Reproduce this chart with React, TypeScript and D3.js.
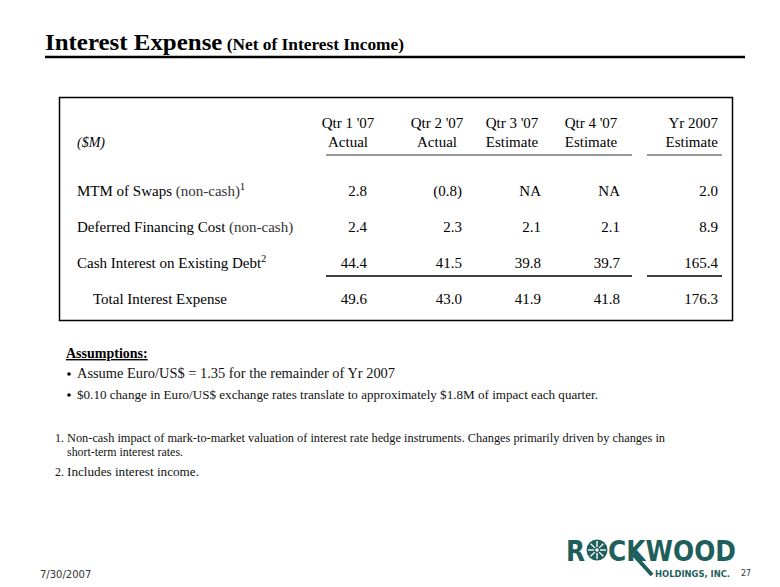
import React from "react";
import * as d3 from "d3";

// table data
const columnPeriods = ["Qtr 1 '07", "Qtr 2 '07", "Qtr 3 '07", "Qtr 4 '07", "Yr 2007"];
const columnBasis = ["Actual", "Actual", "Estimate", "Estimate", "Estimate"];
const rowLabels = [
  "MTM of Swaps",
  "Deferred Financing Cost",
  "Cash Interest on Existing Debt",
  "Total Interest Expense",
];
const rowNotes = [" (non-cash)", " (non-cash)", "", ""];
const rowFootnoteRefs = ["1", "", "2", ""];
const mtmOfSwaps = [2.8, -0.8, null, null, 2.0];
const deferredFinancingCost = [2.4, 2.3, 2.1, 2.1, 8.9];
const cashInterestOnDebt = [44.4, 41.5, 39.8, 39.7, 165.4];
const totalInterestExpense = [49.6, 43.0, 41.9, 41.8, 176.3];

const assumptions = [
  "Assume Euro/US$ = 1.35 for the remainder of Yr 2007",
  "$0.10 change in Euro/US$ exchange rates translate to approximately $1.8M of impact each quarter.",
];
const footnotes = [
  [
    "Non-cash impact of mark-to-market valuation of interest rate hedge instruments.  Changes primarily driven by changes in",
    "short-term interest rates.",
  ],
  ["Includes interest income."],
];

const serif = "'Liberation Serif', 'DejaVu Serif', serif";
const teal = "#1f5f5b";

const fmt = d3.format(".1f");
const formatValue = (v: number | null) =>
  v == null ? "NA" : v < 0 ? `(${fmt(-v)})` : fmt(v);

export default function App() {
  const width = 780;
  const height = 587;
  const rows = [mtmOfSwaps, deferredFinancingCost, cashInterestOnDebt, totalInterestExpense];

  // right edge of each numeric column
  const colRight = d3
    .scaleOrdinal<string, number>()
    .domain(columnPeriods)
    .range([367, 462, 541, 620, 718]);
  // header centre of each column (the year column is right aligned)
  const colCenter = d3
    .scaleOrdinal<string, number>()
    .domain(columnPeriods)
    .range([348, 437, 512, 591, 718]);
  const rowY = d3.scalePoint<string>().domain(rowLabels).range([196, 304]);

  const sunRays = d3.range(8).map((i) => (i * Math.PI) / 4);
  // widths measured off the slide, so the lines run as long as there
  const assumptionWidths = [318, 521];
  const footnoteWidths = [[598, 116], [132]];

  // logo baseline
  const lb = 561;

  return (
    <svg width={width} height={height} style={{ display: "block", margin: "-8px" }}>
      <rect width={width} height={height} fill="#fff" />

      {/* title */}
      <text x={45} y={50} fontFamily={serif} fontWeight="bold" fill="#000"
        textLength={359} lengthAdjust="spacingAndGlyphs">
        <tspan fontSize={23}>Interest Expense</tspan>
        <tspan fontSize={16}> (Net of Interest Income)</tspan>
      </text>
      <line x1={45} x2={745} y1={57} y2={57} stroke="#000" strokeWidth={2.5} />

      {/* table frame */}
      <rect x={59.5} y={97.5} width={673} height={223} fill="none" stroke="#000" strokeWidth={1.5} />

      <g fontFamily={serif} fontSize={15} fill="#000">
        <text x={77} y={147} fontStyle="italic" fontSize={14}>($M)</text>
        {columnPeriods.map((c, i) => {
          const last = i === columnPeriods.length - 1;
          const x = colCenter(c);
          return (
            <g key={c} textAnchor={last ? "end" : "middle"}>
              <text x={x} y={128}>{c}</text>
              <text x={x} y={147}>{columnBasis[i]}</text>
            </g>
          );
        })}
        <line x1={326} x2={632} y1={155} y2={155} stroke="#333" strokeWidth={1.2} />
        <line x1={647} x2={722} y1={155} y2={155} stroke="#333" strokeWidth={1.2} />

        {rowLabels.map((label, r) => {
          const y = rowY(label) as number;
          const isTotal = r === rowLabels.length - 1;
          return (
            <g key={label}>
              <text x={isTotal ? 93 : 77} y={y}>
                <tspan>{label}</tspan>
                {rowNotes[r] && <tspan fill="#333">{rowNotes[r]}</tspan>}
                {rowFootnoteRefs[r] && (
                  <tspan fontSize={10} dy={-6}>{rowFootnoteRefs[r]}</tspan>
                )}
              </text>
              {rows[r].map((v, i) => (
                <text key={i} x={colRight(columnPeriods[i])} y={y} textAnchor="end">
                  {formatValue(v)}
                </text>
              ))}
            </g>
          );
        })}
        <line x1={326} x2={632} y1={276} y2={276} stroke="#000" strokeWidth={1.5} />
        <line x1={647} x2={722} y1={276} y2={276} stroke="#000" strokeWidth={1.5} />
      </g>

      {/* assumptions */}
      <g fontFamily={serif} fill="#000">
        <text x={66} y={358} fontSize={14} fontWeight="bold" textDecoration="underline">
          Assumptions:
        </text>
        {assumptions.map((a, i) => (
          <g key={i}>
            <circle cx={69} cy={374 + i * 21} r={1.8} fill="#000" />
            <text x={77} y={378 + i * 21} fontSize={i === 0 ? 14 : 13} fill="#111"
              textLength={assumptionWidths[i]} lengthAdjust="spacingAndGlyphs">
              {a}
            </text>
          </g>
        ))}
      </g>

      {/* footnotes */}
      <g fontFamily={serif} fontSize={12} fill="#111">
        {footnotes.map((lines, i) => {
          const y0 = i === 0 ? 442 : 476;
          return (
            <g key={i}>
              <text x={55} y={y0}>{`${i + 1}.`}</text>
              {lines.map((l, j) => (
                <text key={j} x={67} y={y0 + j * 14}
                  textLength={footnoteWidths[i][j]} lengthAdjust="spacingAndGlyphs">
                  {l}
                </text>
              ))}
            </g>
          );
        })}
      </g>

      {/* footer */}
      <text x={40} y={578} fontFamily="'DejaVu Sans', sans-serif" fontSize={10} fill="#333">
        7/30/2007
      </text>
      <text x={741} y={576} fontFamily="'DejaVu Sans', sans-serif" fontSize={8} fill="#333">
        27
      </text>

      {/* logo */}
      <g fill={teal} fontFamily="'DejaVu Sans', sans-serif" fontWeight="bold">
        <text x={566} y={lb} fontSize={29} textLength={19} lengthAdjust="spacingAndGlyphs">R</text>
        <circle cx={597} cy={lb - 11} r={10.5} fill={teal} />
        {sunRays.map((a, i) => (
          <line
            key={i}
            x1={597 + Math.cos(a) * 3}
            y1={lb - 11 + Math.sin(a) * 3}
            x2={597 + Math.cos(a) * 9}
            y2={lb - 11 + Math.sin(a) * 9}
            stroke="#fff"
            strokeWidth={1.4}
          />
        ))}
        <circle cx={597} cy={lb - 11} r={1.8} fill="#fff" />
        <text x={608} y={lb} fontSize={29} textLength={128} lengthAdjust="spacingAndGlyphs">
          CKWOOD
        </text>
        <line x1={633} y1={lb - 7} x2={652} y2={lb + 14} stroke={teal} strokeWidth={4} />
        <text x={655} y={lb + 16} fontSize={8} textLength={75} lengthAdjust="spacingAndGlyphs">
          HOLDINGS, INC.
        </text>
      </g>
    </svg>
  );
}
